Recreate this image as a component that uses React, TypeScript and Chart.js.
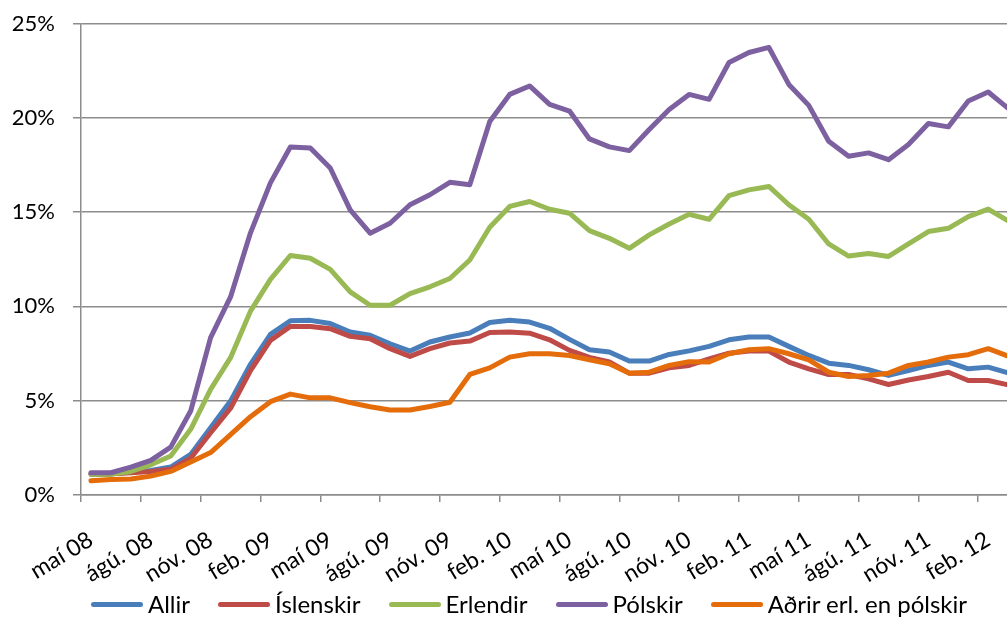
import React, { useEffect, useRef } from 'react';
import { Chart, registerables } from 'chart.js';

Chart.register(...registerables);

const CATEGORIES = [
  'maí 08', 'jún. 08', 'júl. 08', 'ágú. 08', 'sep. 08', 'okt. 08', 'nóv. 08', 'des. 08',
  'jan. 09', 'feb. 09', 'mar. 09', 'apr. 09', 'maí 09', 'jún. 09', 'júl. 09', 'ágú. 09',
  'sep. 09', 'okt. 09', 'nóv. 09', 'des. 09', 'jan. 10', 'feb. 10', 'mar. 10', 'apr. 10',
  'maí 10', 'jún. 10', 'júl. 10', 'ágú. 10', 'sep. 10', 'okt. 10', 'nóv. 10', 'des. 10',
  'jan. 11', 'feb. 11', 'mar. 11', 'apr. 11', 'maí 11', 'jún. 11', 'júl. 11', 'ágú. 11',
  'sep. 11', 'okt. 11', 'nóv. 11', 'des. 11', 'jan. 12', 'feb. 12', 'mar. 12', 'apr. 12',
  'maí 12',
];

const ALLIR = [
  1.1, 1.12, 1.2, 1.3, 1.48, 2.15, 3.57, 4.98, 6.93, 8.52,
  9.24, 9.26, 9.09, 8.64, 8.47, 8.02, 7.63, 8.11, 8.38, 8.59,
  9.15, 9.26, 9.17, 8.84, 8.25, 7.7, 7.58, 7.1, 7.1, 7.45,
  7.64, 7.88, 8.23, 8.38, 8.38, 7.88, 7.4, 6.99, 6.87, 6.64,
  6.34, 6.6, 6.87, 7.05, 6.69, 6.78, 6.48,
];

const ISLENSKIR = [
  1.1, 1.12, 1.18, 1.25, 1.36, 1.95, 3.3, 4.6, 6.6, 8.2,
  8.94, 8.94, 8.82, 8.41, 8.29, 7.76, 7.35, 7.76, 8.06, 8.16,
  8.62, 8.64, 8.58, 8.23, 7.67, 7.3, 7.05, 6.46, 6.46, 6.74,
  6.87, 7.22, 7.52, 7.63, 7.63, 7.05, 6.69, 6.39, 6.39, 6.16,
  5.86, 6.1, 6.28, 6.51, 6.07, 6.07, 5.84,
];

const ERLENDIR = [
  1.09, 1.1, 1.25, 1.6, 2.07, 3.48, 5.6, 7.28, 9.75, 11.43,
  12.7, 12.55, 11.96, 10.77, 10.06, 10.06, 10.68, 11.04, 11.48, 12.46,
  14.2, 15.3, 15.56, 15.15, 14.94, 14.02, 13.61, 13.08, 13.79, 14.37,
  14.88, 14.62, 15.87, 16.18, 16.36, 15.39, 14.62, 13.31, 12.67, 12.8,
  12.65, 13.31, 13.97, 14.14, 14.76, 15.16, 14.53,
];

const POLSKIR = [
  1.18, 1.18, 1.48, 1.84, 2.54, 4.45, 8.34, 10.5, 13.9, 16.55,
  18.45, 18.4, 17.34, 15.12, 13.88, 14.41, 15.39, 15.92, 16.58, 16.45,
  19.8, 21.24, 21.69, 20.71, 20.36, 18.88, 18.46, 18.26, 19.38, 20.44,
  21.24, 20.98, 22.93, 23.46, 23.73, 21.77, 20.66, 18.76, 17.96, 18.14,
  17.78, 18.58, 19.7, 19.52, 20.89, 21.37, 20.5,
];

const ADRIR = [
  0.75, 0.82, 0.85, 1.0, 1.25, 1.75, 2.25, 3.2, 4.15, 4.95,
  5.35, 5.15, 5.15, 4.9, 4.68, 4.51, 4.51, 4.69, 4.92, 6.39,
  6.74, 7.31, 7.49, 7.49, 7.4, 7.17, 6.96, 6.46, 6.51, 6.87,
  7.07, 7.05, 7.49, 7.7, 7.76, 7.49, 7.17, 6.51, 6.28, 6.34,
  6.46, 6.87, 7.05, 7.31, 7.44, 7.76, 7.36,
];

const SERIES_NAMES = ['Allir', 'Íslenskir', 'Erlendir', 'Pólskir', 'Aðrir erl. en pólskir'];
const SERIES_COLORS = ['#4A7EBB', '#BE4B48', '#98B954', '#7D60A0', '#E46C0A'];
const Y_TICKS = [0, 5, 10, 15, 20, 25];

const FONT = 'Lato';
const GRID = '#8c8c8c';

export default function App() {
  const ref = useRef<HTMLCanvasElement | null>(null);

  useEffect(() => {
    if (!ref.current) return;
    const values = [ALLIR, ISLENSKIR, ERLENDIR, POLSKIR, ADRIR];
    const dataLen = ALLIR.length;
    const chart = new Chart(ref.current, {
      type: 'line',
      data: {
        labels: CATEGORIES,
        datasets: values.map((v, i) => ({
          label: SERIES_NAMES[i],
          data: v,
          borderColor: SERIES_COLORS[i],
          backgroundColor: SERIES_COLORS[i],
          borderWidth: 5,
          pointRadius: 0,
          tension: 0,
          borderCapStyle: 'round' as const,
          borderJoinStyle: 'round' as const,
          order: values.length - i,
        })),
      },
      options: {
        responsive: false,
        animation: false,
        layout: { padding: { left: 0, right: 2, top: 23.5, bottom: 0 } },
        plugins: {
          tooltip: { enabled: false },
          legend: { display: false },
        },
        scales: {
          x: {
            offset: true,
            afterFit: (s: any) => {
              s.height = 122;
              s.paddingLeft = 0;
              s.paddingRight = 0;
            },
            grid: {
              offset: true,
              drawOnChartArea: false,
              drawTicks: true,
              tickLength: 7,
              lineWidth: 1.5,
              tickColor: (ctx: any) => (ctx.index % 3 === 0 ? GRID : 'rgba(0,0,0,0)'),
            },
            border: { display: true, color: GRID, width: 1.5 },
            ticks: {
              autoSkip: false,
              minRotation: 31,
              maxRotation: 31,
              padding: 24,
              color: '#000',
              font: { family: FONT, size: 23 },
              callback: function (this: any, value: any, index: number) {
                return index % 3 === 0 && index < dataLen ? this.getLabelForValue(value) : '';
              },
            },
          },
          y: {
            min: 0,
            max: 25,
            afterFit: (s: any) => {
              s.width = 81;
              s.paddingTop = 0;
              s.paddingBottom = 0;
            },
            afterBuildTicks: (s: any) => { s.ticks = Y_TICKS.map((v) => ({ value: v })); },
            grid: {
              color: GRID,
              lineWidth: 1.5,
              tickLength: 8,
              drawTicks: true,
            },
            border: { display: true, color: GRID, width: 1.5 },
            ticks: {
              padding: 18,
              color: '#000',
              font: { family: FONT, size: 22 },
              callback: (v: any) => v + '%',
            },
          },
        },
      },
    });
    return () => chart.destroy();
  }, []);

  return (
    <div style={{ position: 'fixed', left: 0, top: 0, width: 1007, height: 617, overflow: 'hidden', background: '#fff' }}>
      <canvas ref={ref} width={1060} height={617} style={{ display: 'block' }} />
      <div
        style={{
          position: 'absolute',
          left: 91,
          top: 589,
          height: 30,
          display: 'flex',
          alignItems: 'center',
          whiteSpace: 'nowrap',
          fontFamily: FONT,
          fontSize: 24,
          color: '#000',
        }}
      >
        {SERIES_NAMES.map((name, i) => (
          <div key={name} style={{ display: 'flex', alignItems: 'center', marginRight: 28 }}>
            <span
              style={{
                display: 'inline-block',
                width: 52,
                height: 5,
                borderRadius: 3,
                background: SERIES_COLORS[i],
                marginRight: 5,
              }}
            />
            <span style={{ lineHeight: '30px' }}>{name}</span>
          </div>
        ))}
      </div>
    </div>
  );
}
